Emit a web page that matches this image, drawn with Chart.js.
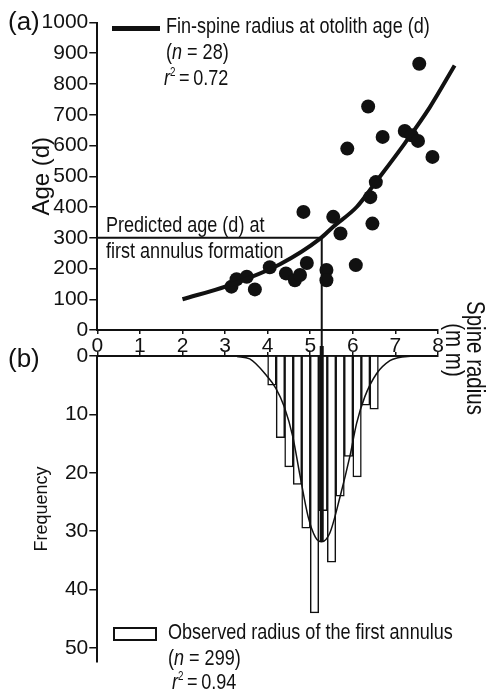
<!DOCTYPE html>
<html lang="en">
<head>
<meta charset="UTF-8">
<title>Fin-spine radius and otolith age</title>
<script src="https://cdn.jsdelivr.net/npm/chart.js"></script>
<style>
  body { margin: 0; background: #fff; }
  #wrap { position: relative; width: 492px; height: 692px; overflow: hidden;
          font-family: 'Liberation Sans', Arial, sans-serif; color: #111; }
  canvas { position: absolute; left: 0; }
  #top { top: 0; }
  #bottom { top: 346px; }
  /* the figure uses a narrow face, so squeeze the text sideways */
  .txt { position: absolute; font-size: 22px; line-height: 26px; white-space: nowrap;
         transform: scaleX(0.82); transform-origin: 0 50%; }
  .panel { position: absolute; font-size: 26px; line-height: 30px; }
  .txt sup { font-size: 12px; line-height: 0; vertical-align: 9px; }
  .rot { position: absolute; font-size: 25px; line-height: 26px; white-space: nowrap;
         transform: translate(-50%, -50%) rotate(90deg) scaleX(0.82); }
  .key-line { position: absolute; left: 112px; top: 26px; width: 48px; height: 5px; background: #111; }
  .key-box { position: absolute; left: 113px; top: 627px; width: 44px; height: 14px;
             border: 2px solid #111; box-sizing: border-box; }
</style>
</head>
<body>
<div id="wrap">
  <canvas id="top" width="492" height="360"></canvas>
  <canvas id="bottom" width="492" height="346"></canvas>

  <div class="panel" style="left:8px; top:6px;">(a)</div>
  <div class="panel" style="left:8px; top:343px;">(b)</div>

  <div class="key-line"></div>
  <div class="txt" style="left:166px; top:13px;">Fin-spine radius at otolith age (d)</div>
  <div class="txt" style="left:166px; top:39px;">(<i>n</i> = 28)</div>
  <div class="txt" style="left:164px; top:65px;"><i>r</i><sup>2</sup>&thinsp;=&thinsp;0.72</div>

  <div class="txt" style="left:106px; top:212px;">Predicted age (d) at</div>
  <div class="txt" style="left:106px; top:238px;">first annulus formation</div>

  <div class="rot" style="left:476px; top:358px;">Spine radius</div>
  <div class="rot" style="left:455px; top:350px;">(m m)</div>

  <div class="key-box"></div>
  <div class="txt" style="left:168px; top:619px;">Observed radius of the first annulus</div>
  <div class="txt" style="left:168px; top:645px;">(<i>n</i> = 299)</div>
  <div class="txt" style="left:172px; top:669px;"><i>r</i><sup>2</sup>&thinsp;=&thinsp;0.94</div>
</div>

<script>
  // (a) otolith age against fin-spine radius
  const spineRadius = [3.15, 3.27, 3.51, 3.70, 4.05, 4.43, 4.64, 4.76, 4.84, 4.92, 5.38, 5.38, 5.54, 5.71,
                       5.87, 6.07, 6.36, 6.41, 6.46, 6.54, 6.70, 7.22, 7.38, 7.53, 7.56, 7.87, 8.20];
  const otolithAge  = [141, 165, 173, 132, 204, 184, 162, 179, 384, 218, 195, 162, 368, 314,
                       590, 211, 727, 432, 346, 481, 628, 647, 633, 615, 866, 563, 680];

  // fitted curve
  const fitRadius = [2.0, 3.04, 4.29, 5.24, 5.54, 6.09, 6.54, 7.22, 7.81, 8.39];
  const fitAge    = [100, 143, 214, 298, 336, 400, 481, 607, 725, 860];

  const predictedRadius = 5.27;
  const predictedAge = 300;

  // (b) first annulus radius histogram (0.2 mm bins)
  const binCentres = [4.1, 4.3, 4.5, 4.7, 4.9, 5.1, 5.3, 5.5, 5.7, 5.9, 6.1, 6.3, 6.5];
  const binCounts  = [5, 14, 19, 22, 29.5, 44, 26.5, 35.3, 24, 17.2, 20.7, 8.4, 9.1];

  // fitted normal curve
  const normalRadius = [3.28, 3.58, 3.99, 4.19, 4.39, 4.59, 4.76, 4.95, 5.12, 5.27, 5.46, 5.70, 5.93, 6.09, 6.28, 6.56, 6.87, 7.06, 7.4];
  const normalFreq   = [0.1, 0.5, 3.5, 5.5, 8.7, 13.8, 20.5, 27.5, 31.0, 31.8, 30.3, 24.1, 17.2, 11.5, 7.0, 3.0, 0.8, 0.3, 0];

  const freqTicks = [0, 10, 20, 30, 40, 50];

  const ink = '#111';
  Chart.defaults.font.family = "'Liberation Sans', Arial, sans-serif";
  Chart.defaults.font.size = 21;
  Chart.defaults.color = ink;

  const pts = (xs, ys) => xs.map((x, i) => ({ x: x, y: ys[i] }));
  const tickGrid = len => ({ drawOnChartArea: false, tickLength: len, color: ink, lineWidth: 1.5 });
  const axisLine = { color: ink, width: 2 };
  const plain = v => String(v);

  new Chart(document.getElementById('top'), {
    type: 'scatter',
    data: {
      datasets: [
        {
          type: 'line',
          data: [{ x: 0, y: predictedAge }, { x: predictedRadius, y: predictedAge }, { x: predictedRadius, y: -100 }],
          borderColor: ink, borderWidth: 2, pointRadius: 0, tension: 0, clip: false
        },
        {
          type: 'line',
          data: pts(fitRadius, fitAge),
          borderColor: ink, borderWidth: 4, pointRadius: 0,
          tension: 0.4, cubicInterpolationMode: 'monotone', clip: false
        },
        {
          data: pts(spineRadius, otolithAge),
          backgroundColor: ink, borderWidth: 0, pointRadius: 7, clip: false
        }
      ]
    },
    options: {
      responsive: false,
      animation: false,
      events: [],
      layout: { padding: { left: 0, top: 22.5, right: 54, bottom: 4 } },
      plugins: { legend: { display: false }, tooltip: { enabled: false } },
      scales: {
        x: {
          type: 'linear', min: 0, max: 8,
          ticks: { stepSize: 1, padding: 0, maxRotation: 0, callback: plain },
          grid: tickGrid(4),
          border: axisLine,
          afterFit(s) { s.height = 26; }
        },
        y: {
          min: 0, max: 1000,
          ticks: { stepSize: 100, padding: 1, callback: plain },
          grid: tickGrid(8),
          border: axisLine,
          title: { display: true, text: 'Age (d)', font: { size: 24 }, padding: { top: 28 } },
          afterFit(s) { s.width = 97.3; }
        }
      }
    }
  });

  new Chart(document.getElementById('bottom'), {
    type: 'bar',
    data: {
      datasets: [
        {
          type: 'line',
          data: [{ x: predictedRadius, y: -2 }, { x: predictedRadius, y: 31.8 }],
          borderColor: ink, borderWidth: 4, pointRadius: 0, tension: 0, clip: false, order: 0
        },
        {
          type: 'line',
          data: pts(normalRadius, normalFreq),
          borderColor: ink, borderWidth: 1.5, pointRadius: 0,
          tension: 0.4, cubicInterpolationMode: 'monotone', clip: false, order: 1
        },
        {
          type: 'bar',
          data: pts(binCentres, binCounts),
          backgroundColor: '#fff', borderColor: ink, borderWidth: 1.5,
          barPercentage: 1, categoryPercentage: 1, order: 2
        }
      ]
    },
    options: {
      responsive: false,
      animation: false,
      events: [],
      layout: { padding: { left: 0, top: 0, right: 54, bottom: 30 } },
      plugins: { legend: { display: false }, tooltip: { enabled: false } },
      scales: {
        x: {
          type: 'linear', position: 'top', min: 0, max: 8, offset: false,
          ticks: { display: false, stepSize: 1 },
          grid: Object.assign(tickGrid(4), { offset: false }),
          border: axisLine,
          afterFit(s) { s.height = 10; }
        },
        y: {
          reverse: true, min: 0, max: 52.4,
          afterBuildTicks(s) { s.ticks = freqTicks.map(v => ({ value: v })); },
          ticks: { padding: 1, callback: plain },
          grid: tickGrid(8),
          border: axisLine,
          title: { display: true, text: 'Frequency', font: { size: 18 }, padding: { top: 31 } },
          afterFit(s) { s.width = 97.3; s.paddingTop = 0; s.paddingBottom = 0; }
        }
      }
    }
  });
</script>
</body>
</html>
